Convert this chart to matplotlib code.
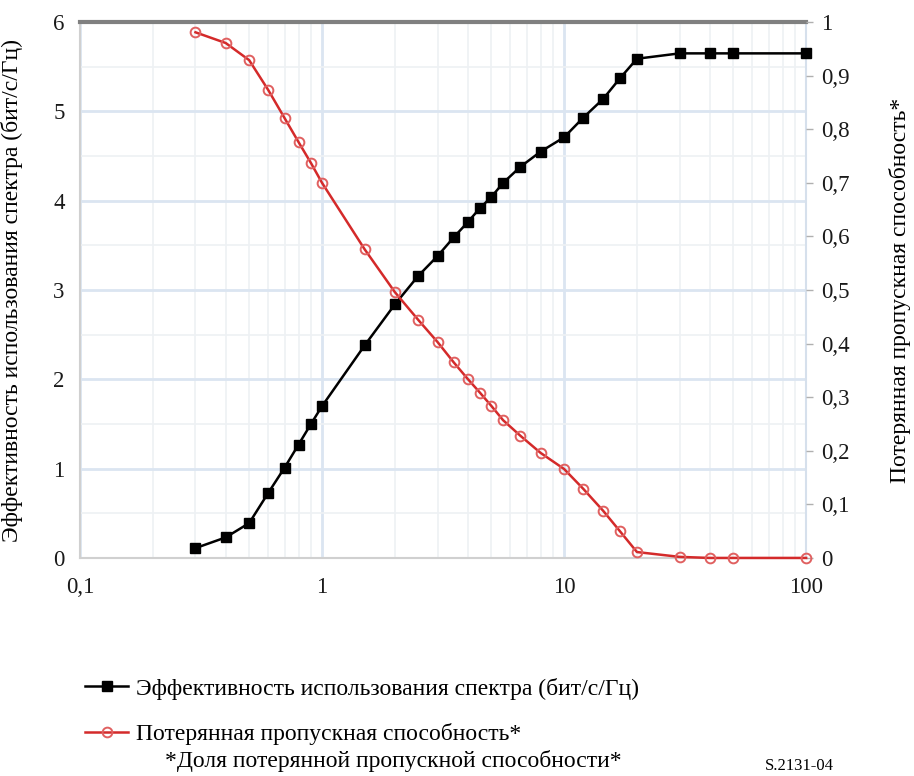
import matplotlib
matplotlib.use("Agg")
import matplotlib.pyplot as plt
from matplotlib.ticker import FixedLocator, FixedFormatter, NullFormatter, LogLocator

plt.rcParams['font.family'] = ['Liberation Serif', 'DejaVu Serif']

# data
snr = [0.3, 0.4, 0.5, 0.6, 0.7, 0.8, 0.9, 1.0, 1.5, 2.0, 2.5, 3.0, 3.5, 4.0, 4.5, 5.0,
       5.6, 6.6, 8.0, 10.0, 12.0, 14.5, 17.0, 20.0, 30.0, 40.0, 50.0, 100.0]
spectral_eff = [0.11, 0.23, 0.39, 0.73, 1.01, 1.27, 1.50, 1.70, 2.38, 2.84, 3.16, 3.38, 3.59,
                3.76, 3.92, 4.04, 4.20, 4.38, 4.55, 4.71, 4.93, 5.14, 5.37, 5.59, 5.65,
                5.65, 5.65, 5.65]
lost_capacity = [0.981, 0.961, 0.929, 0.873, 0.821, 0.776, 0.737, 0.700, 0.576, 0.496, 0.444,
                 0.403, 0.365, 0.334, 0.308, 0.284, 0.257, 0.228, 0.196, 0.166, 0.129, 0.088,
                 0.050, 0.011, 0.002, 0.0, 0.0, 0.0]

x_ticks = [0.1, 1, 10, 100]
x_labels = ["0,1", "1", "10", "100"]
left_ticks = [0, 1, 2, 3, 4, 5, 6]
right_ticks = [0, 0.1, 0.2, 0.3, 0.4, 0.5, 0.6, 0.7, 0.8, 0.9, 1.0]
right_labels = ["0", "0,1", "0,2", "0,3", "0,4", "0,5", "0,6", "0,7", "0,8", "0,9", "1"]

label_eff = "Эффективность использования спектра (бит/с/Гц)"
label_lost = "Потерянная пропускная способность*"
footnote = "*Доля потерянной пропускной способности*"

FS_TICK = 16.5
FS = 17
fig = plt.figure(figsize=(9.14, 7.76), dpi=100)
ax = fig.add_axes([0.0875, 0.281, 0.7945, 0.6905])
ax.set_xscale("log")
ax.set_xlim(0.1, 100)
ax.set_ylim(0, 6)

ax.xaxis.set_major_locator(FixedLocator(x_ticks))
ax.xaxis.set_major_formatter(FixedFormatter(x_labels))
ax.xaxis.set_minor_locator(LogLocator(base=10, subs=range(2, 10)))
ax.xaxis.set_minor_formatter(NullFormatter())
ax.yaxis.set_major_locator(FixedLocator(left_ticks))
ax.yaxis.set_minor_locator(FixedLocator([0.5, 1.5, 2.5, 3.5, 4.5, 5.5]))

ax.grid(which="major", color="#dbe5f1", linewidth=2.0)
ax.grid(which="minor", color="#eef1f4", linewidth=1.2)
ax.set_axisbelow(True)
ax.tick_params(which="both", length=0, labelsize=FS_TICK, colors="#1a1a1a")
ax.tick_params(axis="y", pad=11)
ax.tick_params(axis="x", pad=14)

for s in ["left", "bottom"]:
    ax.spines[s].set_color("#d0d0d0")
    ax.spines[s].set_linewidth(1.5)
ax.spines["right"].set_color("#d6e0ec")
ax.spines["right"].set_linewidth(1.5)
ax.spines["top"].set_color("#808080")
ax.spines["top"].set_linewidth(3)

ax.set_ylabel(label_eff, fontsize=FS)
ax.yaxis.set_label_coords(-0.079, 0.5)

ax2 = ax.twinx()
ax2.set_ylim(0, 1)
ax2.yaxis.set_major_locator(FixedLocator(right_ticks))
ax2.yaxis.set_major_formatter(FixedFormatter(right_labels))
ax2.tick_params(axis="y", length=5, width=1, color="#b0b0b0", labelsize=FS_TICK, pad=6,
                labelcolor="#1a1a1a")
for s in ax2.spines.values():
    s.set_visible(False)
ax2.set_ylabel(label_lost, fontsize=FS, rotation=90)
ax2.yaxis.set_label_coords(1.114, 0.5)

l1, = ax.plot(snr, spectral_eff, color="black", linewidth=1.8, marker="s",
              markersize=6.5, label=label_eff, clip_on=False, zorder=5)
l2, = ax2.plot(snr, lost_capacity, color="#d42a2a", linewidth=1.8, marker="o",
               markersize=7, markerfacecolor="none", markeredgecolor="#e06060",
               markeredgewidth=1.4, label=label_lost, clip_on=False, zorder=5)

fig.legend(handles=[l1, l2], loc="upper left", bbox_to_anchor=(0.083, 0.139),
           frameon=False, fontsize=FS, handlelength=1.8, handletextpad=0.35,
           labelspacing=1.0, borderaxespad=0)
fig.text(0.1805, 0.019, footnote, fontsize=FS, ha="left", va="center")
fig.text(0.837, 0.003, "S.2131-04", fontsize=12, ha="left", va="bottom")

fig.savefig("out.png", dpi=100)
